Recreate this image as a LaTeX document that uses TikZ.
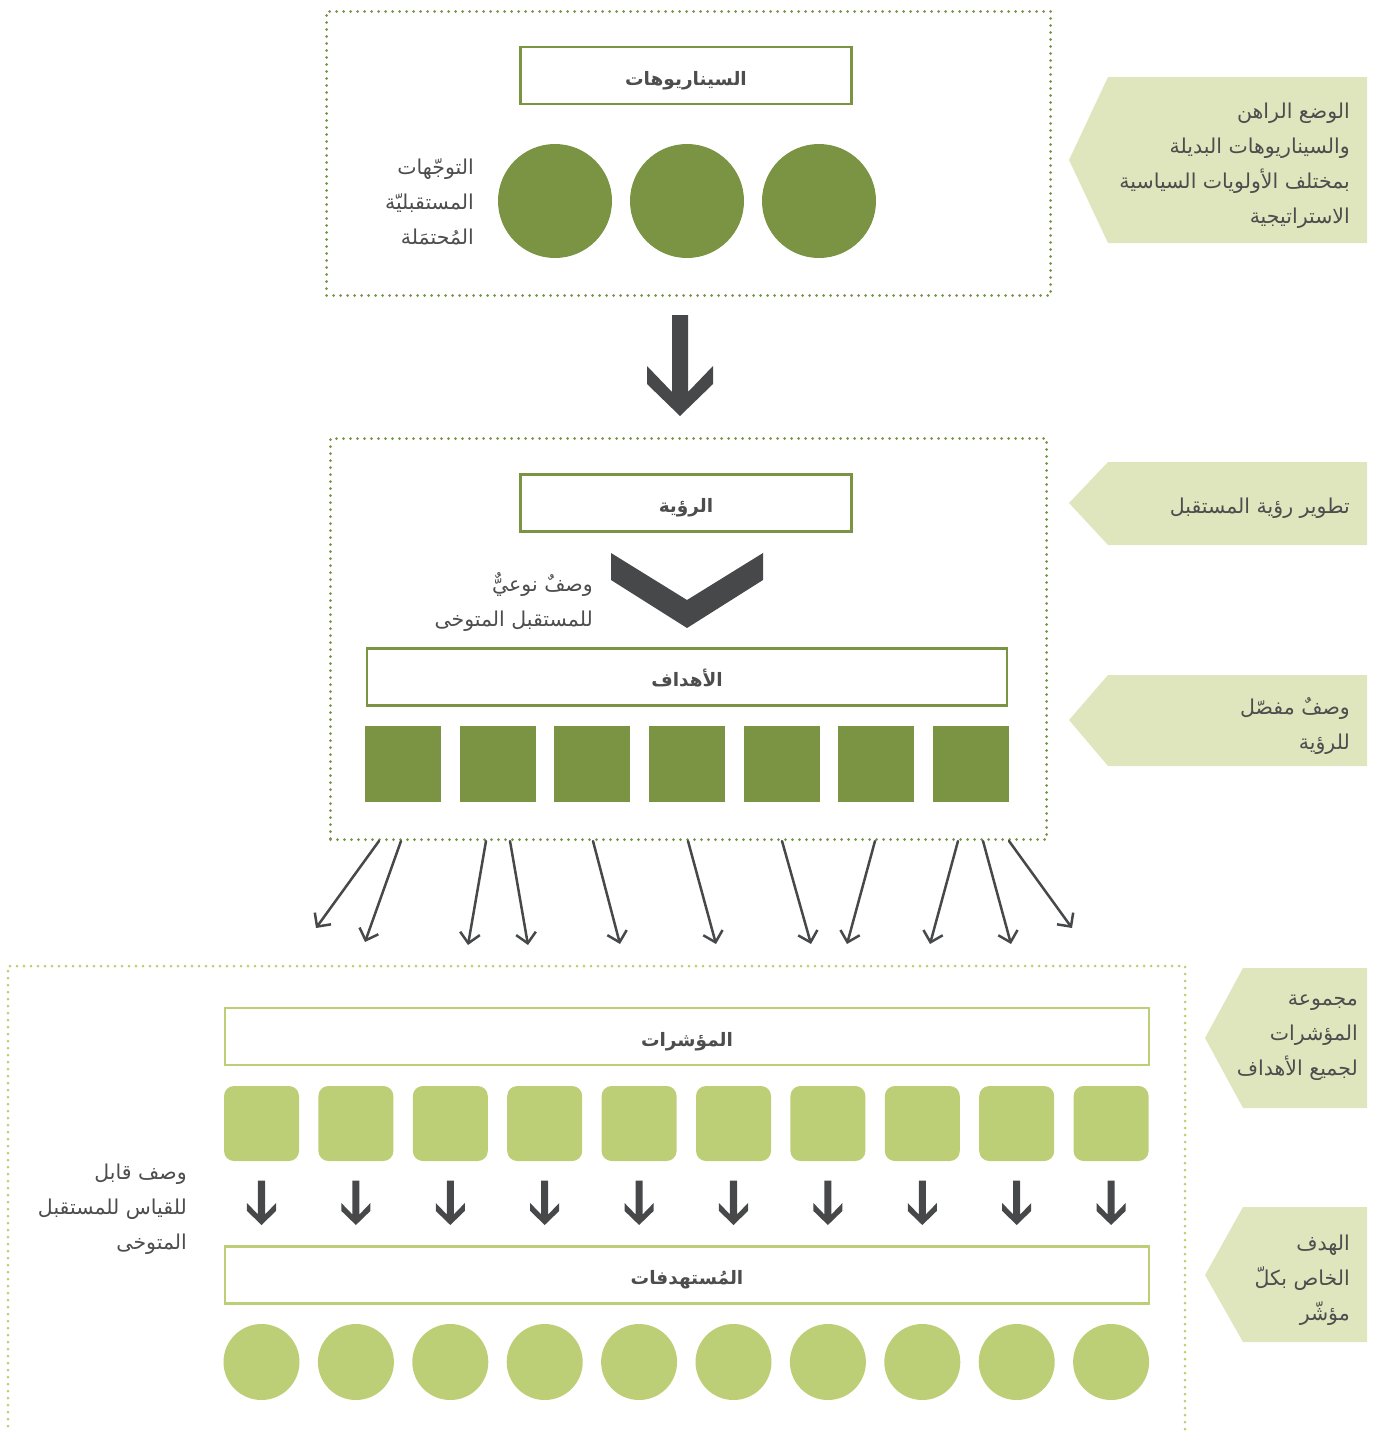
\documentclass[tikz,border=0pt]{standalone}
\usepackage{fontspec}
\newfontfamily\arabicfont[Script=Arabic]{DejaVu Sans}
\TeXXeTstate=1
\usetikzlibrary{arrows.meta,calc}

\definecolor{leafdark}{HTML}{7A9444}
\definecolor{leaflight}{HTML}{BCCF76}
\definecolor{tagfill}{HTML}{DFE6BE}
\definecolor{inkgray}{HTML}{47484A}
\definecolor{textgray}{HTML}{4D4D4D}

% one right-to-left line of Arabic
\newcommand\artext[1]{\beginR #1\endR}

\tikzset{
  dotframe/.style={draw=#1, line width=3pt, dash pattern=on 0pt off 7pt, line cap=round},
  titlebox/.style={draw=#1, line width=2.5pt, minimum height=57pt, inner sep=0pt,
    text height=19pt, text depth=0pt,
    text=textgray, font=\arabicfont\bfseries\fontsize{18.5}{22}\selectfont},
  note/.style={anchor=east, align=right, inner sep=0pt, text=textgray,
    font=\arabicfont\fontsize{20.5}{35}\selectfont},
  tag/.style={fill=tagfill, draw=none},
  darkdisc/.style={circle, fill=leafdark, minimum size=114pt, inner sep=0pt},
  goalsq/.style={fill=leafdark, minimum size=76pt, inner sep=0pt},
  indsq/.style={fill=leaflight, rounded corners=10pt, minimum size=75pt, inner sep=0pt},
  targetdisc/.style={circle, fill=leaflight, minimum size=76pt, inner sep=0pt},
  spread/.style={draw=inkgray, line width=2.5pt, line cap=round,
    -{Straight Barb[length=10pt,width=20pt,line width=2.5pt]}},
  solidarrow/.pic={\fill[inkgray] (-8,-101)--(8,-101)--(8,-24)--(33,-50)--(33,-32)
     --(0,0)--(-33,-32)--(-33,-50)--(-8,-24)--cycle;}
}

\begin{document}
\begin{tikzpicture}[x=1pt,y=-1pt]
\useasboundingbox (0,0) rectangle (1381,1432);

% ---------- scenarios ----------
\node[dotframe=leafdark, anchor=north west, minimum width=724pt, minimum height=284pt, inner sep=0pt]
  (scenframe) at (325,10) {};
\node[titlebox=leafdark, minimum width=331pt] (scen) at (686,75.5) {\artext{السيناريوهات}};
\foreach \i/\x in {1/555,2/687,3/819}
  \node[darkdisc] (trend\i) at (\x,201) {};
\node[note] (trendtxt) at (474,202)
  {\artext{التوجّهات}\\\artext{المستقبليّة}\\\artext{المُحتمَلة}};

% big arrow between the two upper frames
\pic at (680,416) {solidarrow};

% ---------- vision and goals ----------
\node[dotframe=leafdark, anchor=north west, minimum width=716pt, minimum height=401pt, inner sep=0pt]
  (visframe) at (329,437) {};
\node[titlebox=leafdark, minimum width=331pt] (vision) at (686,503) {\artext{الرؤية}};
\fill[inkgray] (611,553)--(687,600)--(763,553)--(763,580)--(687,628)--(611,580)--cycle;
\node[note] (vistxt) at (593,602)
  {\artext{وصفٌ نوعيٌّ}\\\artext{للمستقبل المتوخى}};
\node[titlebox=leafdark, minimum width=640pt] (goals) at (687,677) {\artext{الأهداف}};
\foreach \i in {0,...,6}
  \node[goalsq] (goal\i) at ({403+\i*94.67},764) {};

% arrows fanning out from the vision frame
\foreach \n/\sx/\ex/\ey in {1/379/316/928, 2/401/365/942, 3/486/468/945, 4/510/528/945,
    5/593/620/944, 6/688/716/944, 7/782/811/944, 8/875/847/944, 9/958/930/944,
    10/983/1011/944, 11/1009/1072/928}{
  \coordinate (fanend\n) at (\ex,\ey);
  \draw[spread] ($(visframe.south west)+(\sx-329,0)$) -- (fanend\n);
}

% ---------- indicators and targets ----------
\draw[dotframe=leaflight] (8,1440) -- (8,966) -- (1185,966) -- (1185,1440);
\node[titlebox=leaflight, minimum width=924pt] (ind) at (687,1036.5) {\artext{المؤشرات}};
\foreach \i in {0,...,9}{
  \node[indsq] (ind\i) at ({261.5+\i*94.4},1123.5) {};
  \pic[scale=0.44] at ({261.5+\i*94.4},1225) {solidarrow};
  \node[targetdisc] (tgt\i) at ({261.5+\i*94.4},1362) {};
}
\node[titlebox=leaflight, minimum width=924pt] (tgts) at (687,1275) {\artext{المُستهدفات}};
\node[note] (meastxt) at (187,1209)
  {\artext{وصف قابل}\\\artext{للقياس للمستقبل}\\\artext{المتوخى}};

% ---------- side tags ----------
\fill[tag] (1069,160)--(1108,77)--(1367,77)--(1367,243)--(1108,243)--cycle;
\node[note] (tag1) at (1350,166)
  {\artext{الوضع الراهن}\\\artext{والسيناريوهات البديلة}\\\artext{بمختلف الأولويات السياسية}\\\artext{الاستراتيجية}};
\fill[tag] (1069,503)--(1108,462)--(1367,462)--(1367,545)--(1108,545)--cycle;
\node[note] (tag2) at (1350,508) {\artext{تطوير رؤية المستقبل}};
\fill[tag] (1069,720)--(1108,675)--(1367,675)--(1367,766)--(1108,766)--cycle;
\node[note] (tag3) at (1350,726) {\artext{وصفٌ مفصّل}\\\artext{للرؤية}};
\fill[tag] (1205,1038)--(1243,968)--(1367,968)--(1367,1108)--(1243,1108)--cycle;
\node[note] (tag4) at (1358,1038)
  {\artext{مجموعة}\\\artext{المؤشرات}\\\artext{لجميع الأهداف}};
\fill[tag] (1205,1275)--(1243,1207)--(1367,1207)--(1367,1342)--(1243,1342)--cycle;
\node[note] (tag5) at (1350,1280)
  {\artext{الهدف}\\\artext{الخاص بكلّ}\\\artext{مؤشّر}};
\end{tikzpicture}
\end{document}
